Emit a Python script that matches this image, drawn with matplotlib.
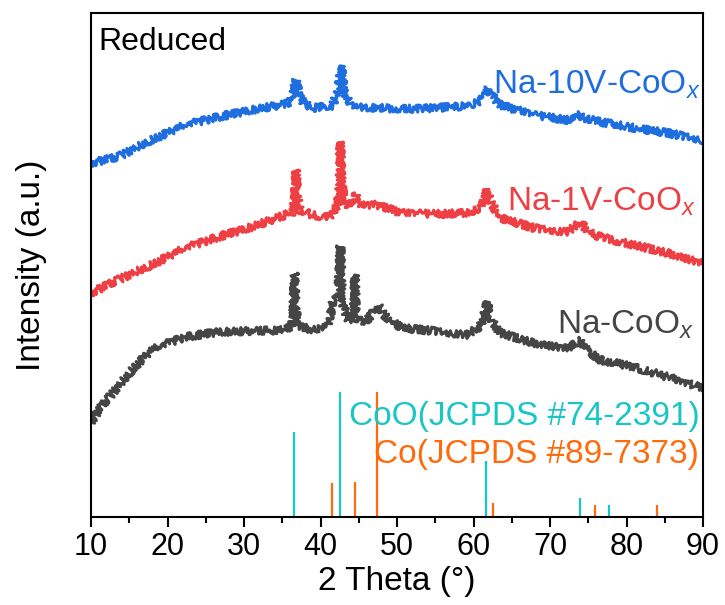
import matplotlib
matplotlib.use("Agg")
import matplotlib.pyplot as plt
from matplotlib.ticker import MultipleLocator

plt.rcParams['font.family'] = ['Liberation Sans', 'DejaVu Sans']
plt.rcParams['mathtext.fontset'] = 'custom'
plt.rcParams['mathtext.rm'] = 'Liberation Sans'
plt.rcParams['mathtext.it'] = 'Liberation Sans:italic'

# ---- XRD patterns (2θ in degrees, stacked intensity in a.u.) ----
tt_10v = [10, 13.5, 17.9, 22.3, 26.6, 31.0, 35.4, 36.0, 36.45, 36.8, 37.15, 37.8,
          38.9, 41.5, 42.3, 42.7, 43.1, 44.0, 44.9, 50.6, 55.0, 59.2, 60.8, 61.4,
          61.8, 62.4, 63.5, 67.9, 72.3, 73.5, 74.0, 74.5, 76.6, 81.0, 85.4, 90.0]
int_10v = [354, 360, 377, 392, 400, 407, 413, 415, 424, 437, 424, 414,
           409, 411, 425, 451, 425, 413, 410, 408, 409, 411, 416, 423,
           429, 422, 412, 402, 397, 399, 403, 399, 395, 389, 384, 377]

tt_1v = [10, 13.5, 17.9, 22.3, 26.6, 31.0, 35.4, 36.4, 36.65, 36.8, 36.95, 37.3,
         38.9, 41.2, 42.2, 42.45, 42.6, 42.75, 43.1, 44.35, 44.6, 44.85, 47.5, 50.6,
         55.0, 59.2, 60.9, 61.5, 61.8, 62.15, 63.5, 67.9, 72.3, 74.0, 75.0, 76.6,
         81.0, 85.4, 90.0]
int_1v = [224, 237, 252, 269, 280, 290, 302, 305, 321, 347, 321, 307,
          302, 300, 311, 335, 375, 335, 313, 313, 324, 313, 312, 304,
          303, 304, 309, 318, 328, 316, 299, 289, 285, 295, 285, 280,
          272, 264, 254]

tt_na = [10, 11.3, 13.5, 15.7, 17.9, 20.1, 22.3, 26.6, 31.0, 35.4, 36.3, 36.5,
         36.6, 36.7, 37.0, 38.9, 41.0, 41.6, 42.3, 42.6, 42.85, 43.6, 44.35, 44.5,
         44.65, 45.8, 46.8, 47.6, 48.4, 50.6, 55.0, 59.2, 60.9, 61.5, 61.8, 62.15,
         63.5, 67.9, 72.3, 74.0, 74.8, 76.6, 81.0, 85.4, 90.0]
int_na = [95, 110, 130, 150, 167, 174, 180, 185, 186, 187, 192, 215,
          244, 215, 192, 187, 192, 214, 221, 271, 215, 197, 199, 242,
          199, 194, 204, 211, 201, 189, 186, 182, 191, 205, 215, 199,
          184, 174, 169, 177, 167, 157, 150, 140, 129]

# ---- Reference cards (relative intensity, %) ----
coo_pos = [36.6, 42.5, 61.6, 73.9, 77.7]
coo_rel = [68, 100, 45, 15, 10]
co_pos = [41.5, 44.5, 47.4, 62.5, 75.9, 84.0]
co_rel = [27, 28, 100, 11, 9.6, 9.6]

c_blue = '#1f6ee0'
c_red = '#ee3f44'
c_gray = '#454545'
c_cyan = '#19c6c6'
c_orange = '#ff6a0d'

fig = plt.figure(figsize=(7.25, 6.05), dpi=100)
ax = fig.add_axes([91 / 725, 88 / 605, 612 / 725, 504 / 605])

# thick stroke with a fine jagged sketch gives the noisy-band look of raw scans
for tt, yy, col in [(tt_na, int_na, c_gray), (tt_1v, int_1v, c_red), (tt_10v, int_10v, c_blue)]:
    ln, = ax.plot(tt, yy, color=col, lw=2.2, solid_joinstyle='round', solid_capstyle='round')
    ln.set_sketch_params(scale=3.8, length=0.6, randomness=8.0)

# stick patterns: 100 % maps to 125 a.u.
stick_scale = 1.25
ax.vlines(coo_pos, 0, [r * stick_scale for r in coo_rel], color=c_cyan, lw=1.6)
ax.vlines(co_pos, 0, [r * stick_scale for r in co_rel], color=c_orange, lw=1.6)

fs_lab = 24
ax.text(89.75, 423, r'Na-10V-CoO$_{x}$', color=c_blue, fontsize=fs_lab, ha='right', va='baseline')
ax.text(89.1, 306, r'Na-1V-CoO$_{x}$', color=c_red, fontsize=fs_lab, ha='right', va='baseline')
ax.text(88.9, 183, r'Na-CoO$_{x}$', color=c_gray, fontsize=fs_lab, ha='right', va='baseline')
ax.text(89.6, 92, 'CoO(JCPDS #74-2391)', color=c_cyan, fontsize=24, ha='right', va='baseline')
ax.text(89.4, 54, 'Co(JCPDS #89-7373)', color=c_orange, fontsize=24, ha='right', va='baseline')
ax.text(11.0, 467, 'Reduced', color='black', fontsize=23, ha='left', va='baseline')

ax.set_xlim(10, 90)
ax.set_ylim(0, 504)
ax.xaxis.set_major_locator(MultipleLocator(10))
ax.xaxis.set_minor_locator(MultipleLocator(5))
ax.set_yticks([])
ax.tick_params(axis='x', which='major', direction='out', length=7, width=1.5, labelsize=22, pad=4)
ax.tick_params(axis='x', which='minor', direction='out', length=4, width=1.5)
for s in ax.spines.values():
    s.set_linewidth(1.5)

ax.set_xlabel('2 Theta (°)', fontsize=24)
ax.set_ylabel('Intensity (a.u.)', fontsize=24)
ax.yaxis.set_label_coords(-0.098, 0.5)
ax.xaxis.set_label_coords(0.5, -0.127)
ax.xaxis.label.set_va('center')
ax.yaxis.label.set_va('center')

fig.savefig('out.png', dpi=100)
